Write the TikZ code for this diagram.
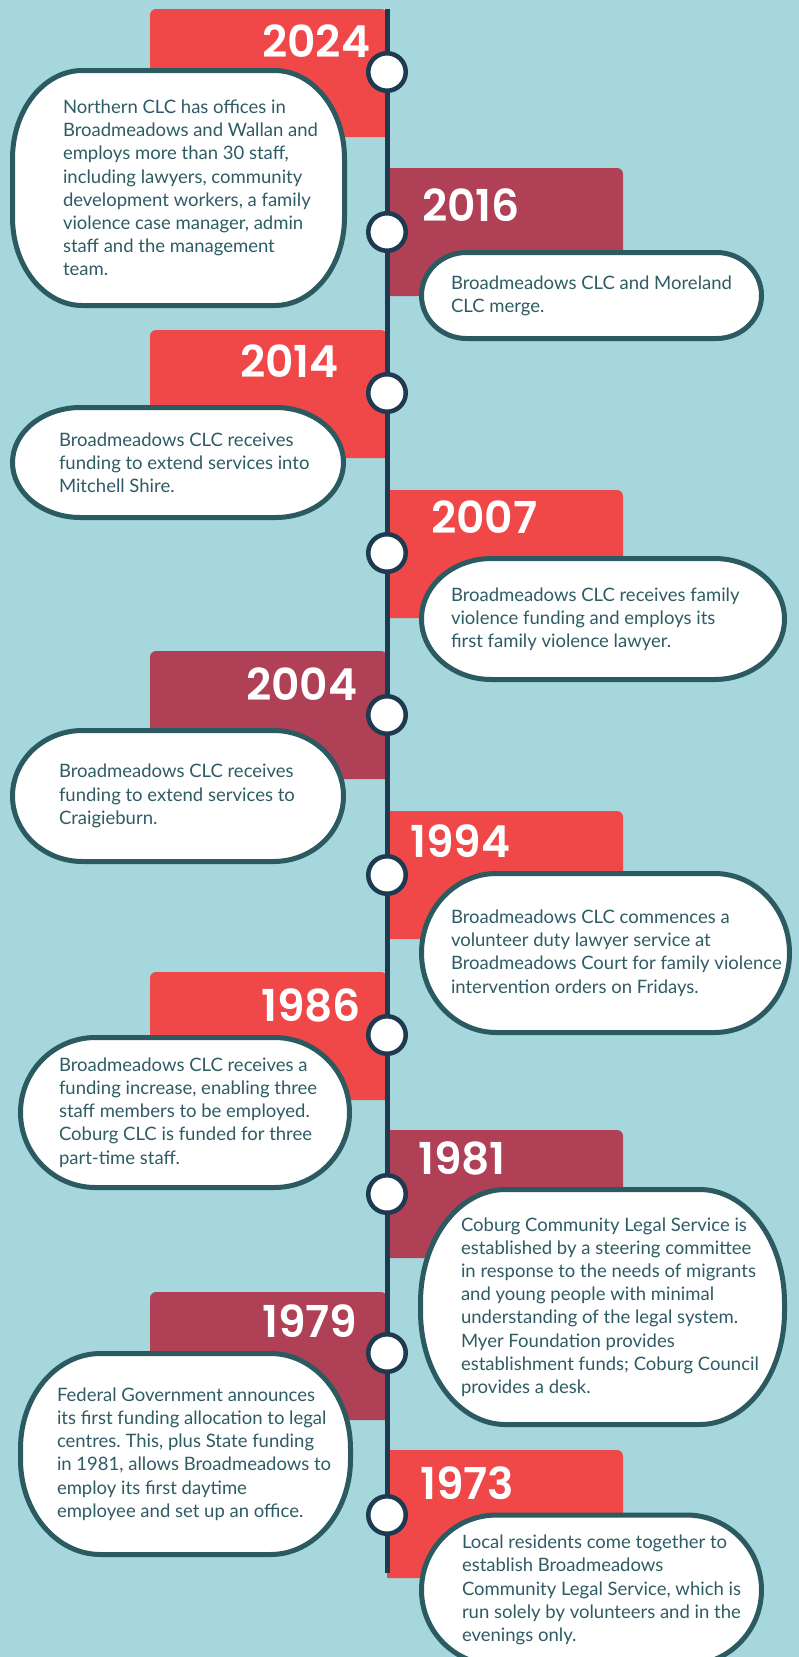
\documentclass[tikz,border=0pt]{standalone}
\usepackage{fontspec}
\setmainfont{Lato}
\newfontfamily\yearfont{Poppins SemiBold}
\usetikzlibrary{positioning}
\frenchspacing

\definecolor{skyback}{HTML}{A6D7DD}
\definecolor{tabred}{HTML}{F04848}
\definecolor{tabrose}{HTML}{B04056}
\definecolor{spinenavy}{HTML}{1E3A50}
\definecolor{cardteal}{HTML}{2B5A60}
\definecolor{bodyteal}{HTML}{2E5C64}

\tikzset{
    spine/.style={draw=spinenavy, line width=5pt},
    dot/.style={
        circle,
        draw=spinenavy,
        fill=white,
        line width=4.5pt,
        minimum size=37.5pt,
        inner sep=0pt
    },
    card/.style={
        draw=cardteal,
        fill=white,
        line width=5pt
    },
    cardframe/.style={inner sep=0pt},
    cardtext/.style={
        font=\fontsize{18.5}{23.2}\selectfont,
        text=bodyteal,
        align=left,
        inner sep=0pt
    },
    yearlabel/.style={
        font=\yearfont\fontsize{44}{44}\selectfont,
        text=white,
        inner sep=0pt,
        anchor=base west
    }
}

% card with elliptic corners: name, centre x, centre y, width, height, x radius, y radius
\newcommand{\timelinecard}[7]{%
    \path[card] (#2-#4/2+#6,#3-#5/2) -- (#2+#4/2-#6,#3-#5/2)
        arc[start angle=-90, end angle=0, x radius=#6, y radius=#7]
        -- (#2+#4/2,#3+#5/2-#7)
        arc[start angle=0, end angle=90, x radius=#6, y radius=#7]
        -- (#2-#4/2+#6,#3+#5/2)
        arc[start angle=90, end angle=180, x radius=#6, y radius=#7]
        -- (#2-#4/2,#3-#5/2+#7)
        arc[start angle=180, end angle=270, x radius=#6, y radius=#7]
        -- cycle;
    \node[cardframe, minimum width=#4pt, minimum height=#5pt] (#1) at (#2,#3) {};
}

\begin{document}
\begin{tikzpicture}[x=1pt,y=-1pt]
\useasboundingbox (0,0) rectangle (799,1657);
\fill[skyback] (0,0) rectangle (799,1657);

% tabs left of the line
\foreach \ty/\col in {9/tabred, 330/tabred, 651/tabrose, 972/tabred, 1292/tabrose}{
    \fill[fill=\col] (150,\ty+128) [rounded corners=6pt] |- (387,\ty) [sharp corners] -- (387,\ty+128) -- cycle;
}
% tabs right of the line
\foreach \ty/\col in {168/tabrose, 490/tabred, 811/tabred, 1130/tabrose, 1450/tabred}{
    \fill[fill=\col] (387,\ty) [rounded corners=6pt] -| (623,\ty+128) [sharp corners] -- (387,\ty+128) -- cycle;
}

% cards
\timelinecard{b2024}{178.5}{188}{332}{235}{70}{88}
\node[cardtext, right=50.5pt of b2024.west] (t2024) {Northern CLC has offices in\\Broadmeadows and Wallan and\\employs more than 30 staff,\\including lawyers, community\\development workers, a family\\violence case manager, admin\\staff and the management\\team.};

\timelinecard{b2016}{591.5}{295.5}{340}{86}{45}{43}
\node[cardtext, right=29.5pt of b2016.west] (t2016) {Broadmeadows CLC and Moreland\\CLC merge.};

\timelinecard{b2014}{178}{462.5}{331}{110}{68}{55}
\node[cardtext, right=46.5pt of b2014.west] (t2014) {Broadmeadows CLC receives\\funding to extend services into\\Mitchell Shire.};

\timelinecard{b2007}{603}{619}{363}{121}{70}{60.5}
\node[cardtext, right=29.5pt of b2007.west] (t2007) {Broadmeadows CLC receives family\\violence funding and employs its\\first family violence lawyer.};

\timelinecard{b2004}{178}{796}{331}{131}{70}{65.5}
\node[cardtext, right=46.5pt of b2004.west] (t2004) {Broadmeadows CLC receives\\funding to extend services to\\Craigieburn.};

\timelinecard{b1994}{605.5}{953}{368}{159}{75}{79.5}
\node[cardtext, right=29.5pt of b1994.west] (t1994) {Broadmeadows CLC commences a\\volunteer duty lawyer service at\\Broadmeadows Court for family violence\\intervention orders on Fridays.};

\timelinecard{b1986}{185}{1112.5}{329}{150}{75}{75}
\node[cardtext, right=38.5pt of b1986.west] (t1986) {Broadmeadows CLC receives a\\funding increase, enabling three\\staff members to be employed.\\Coburg CLC is funded for three\\part-time staff.};

\timelinecard{b1981}{602.5}{1307}{364}{235}{85}{113}
\node[cardtext, right=40.5pt of b1981.west] (t1981) {Coburg Community Legal Service is\\established by a steering committee\\in response to the needs of migrants\\and young people with minimal\\understanding of the legal system.\\Myer Foundation provides\\establishment funds; Coburg Council\\provides a desk.};

\timelinecard{b1979}{185.5}{1454}{330}{201}{80}{95}
\node[cardtext, right=36.5pt of b1979.west] (t1979) {Federal Government announces\\its first funding allocation to legal\\centres. This, plus State funding\\in 1981, allows Broadmeadows to\\employ its first daytime\\employee and set up an office.};

\timelinecard{b1973}{591.5}{1590}{340}{150}{75}{75}
\node[cardtext, right=40.5pt of b1973.west] (t1973) {Local residents come together to\\establish Broadmeadows\\Community Legal Service, which is\\run solely by volunteers and in the\\evenings only.};

% timeline
\coordinate (spinetop) at (387,9);
\coordinate (spinebot) at (387,1573);
\draw[spine] (spinetop) -- (spinebot);

\foreach \yr/\cy in {2024/72, 2016/232, 2014/393, 2007/553, 2004/715, 1994/875, 1986/1035, 1981/1194, 1979/1353, 1973/1515}
    \node[dot] (c\yr) at (387,\cy) {};

% years
\node[yearlabel] (y2024) at (262,57) {2024};
\node[yearlabel] (y2016) at (422,221) {2016};
\node[yearlabel] (y2014) at (240,377) {2014};
\node[yearlabel] (y2007) at (431,533) {2007};
\node[yearlabel] (y2004) at (246,700) {2004};
\node[yearlabel] (y1994) at (410,857) {1994};
\node[yearlabel] (y1986) at (261,1021) {1986};
\node[yearlabel] (y1981) at (418,1174) {1981};
\node[yearlabel] (y1979) at (262,1337) {1979};
\node[yearlabel] (y1973) at (420,1499) {1973};
\end{tikzpicture}
\end{document}
